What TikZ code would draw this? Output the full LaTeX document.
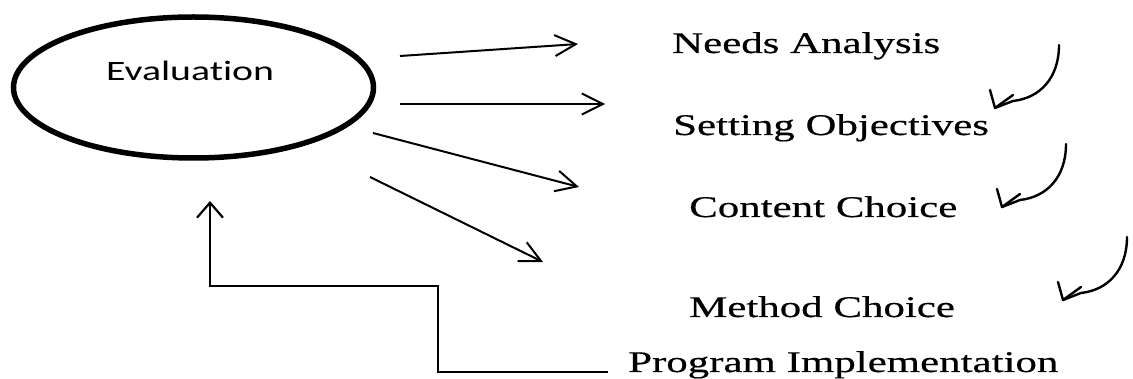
\documentclass[tikz,border=0pt]{standalone}
\usepackage{fontspec}
\setmainfont{Liberation Serif}
\newfontfamily\stagefont[FakeStretch=1.43,FakeBold=0.5]{Liberation Serif}
\newfontfamily\evalfont[FakeStretch=1.42,Ligatures=NoCommon]{Carlito}
\usetikzlibrary{arrows.meta,shapes.geometric}

\begin{document}
\begin{tikzpicture}[x=1pt,y=-1pt,
  stage/.style={anchor=base west, inner sep=0pt, text=black,
    font=\stagefont\fontsize{30}{30}\selectfont},
  evalbox/.style={draw, ellipse, line width=5.5pt, inner sep=0pt,
    minimum width=360pt, minimum height=141pt},
  evallabel/.style={anchor=base west, inner sep=0pt,
    font=\evalfont\fontsize{28}{28}\selectfont},
  flow/.style={line width=2pt, line join=round,
    -{Straight Barb[length=21pt,width=21pt]}},
  feedback/.style={line width=2.2pt,
    -{Straight Barb[length=15pt,width=26pt]}},
  curl/.style={line width=2.4pt, line cap=round, line join=round}
]
\useasboundingbox (0,0) rectangle (1133,379);

% evaluation ellipse and its caption
\node[evalbox] (eval) at (193.5,87.5) {};
\node[evallabel] (evaltext) at (106,81) {Evaluation};

% stages of the programme
\node[stage] (needs)   at (672,53)  {Needs Analysis};
\node[stage] (objs)    at (673,135) {Setting Objectives};
\node[stage] (content) at (689,217) {Content Choice};
\node[stage] (method)  at (689,317) {Method Choice};
\node[stage] (program) at (628,372) {Program Implementation};

% arrows fanning out from the evaluation
\coordinate (a1s) at (400,56);  \coordinate (a1e) at (578,44);
\coordinate (a2s) at (400,104); \coordinate (a2e) at (605,104);
\coordinate (a3s) at (373,133); \coordinate (a3e) at (579,187);
\coordinate (a4s) at (370,177); \coordinate (a4e) at (543,262);
\draw[flow] (a1s) -- (a1e);
\draw[flow] (a2s) -- (a2e);
\draw[flow] (a3s) -- (a3e);
\draw[flow] (a4s) -- (a4e);

% feedback loop from implementation back to evaluation
\coordinate (fb0) at (608,372);
\coordinate (fbstep) at (438,286);
\coordinate (fbtip) at (210,201);
\draw[feedback] (fb0) -| (fbstep) -| (fbtip);

% hand-drawn curled arrows between the stages
\foreach \tx/\ty in {995/108, 1002/207, 1063/300} {
  \begin{scope}[shift={(\tx,\ty)}]
    \coordinate (ctip) at (0,0);
    \draw[curl] (64,-63) .. controls (64,-30) and (45,-10) .. (18,-7) -- (ctip);
    \draw[curl] (-5,-18) -- (ctip) -- (18,-13);
  \end{scope}
}
\end{tikzpicture}
\end{document}
